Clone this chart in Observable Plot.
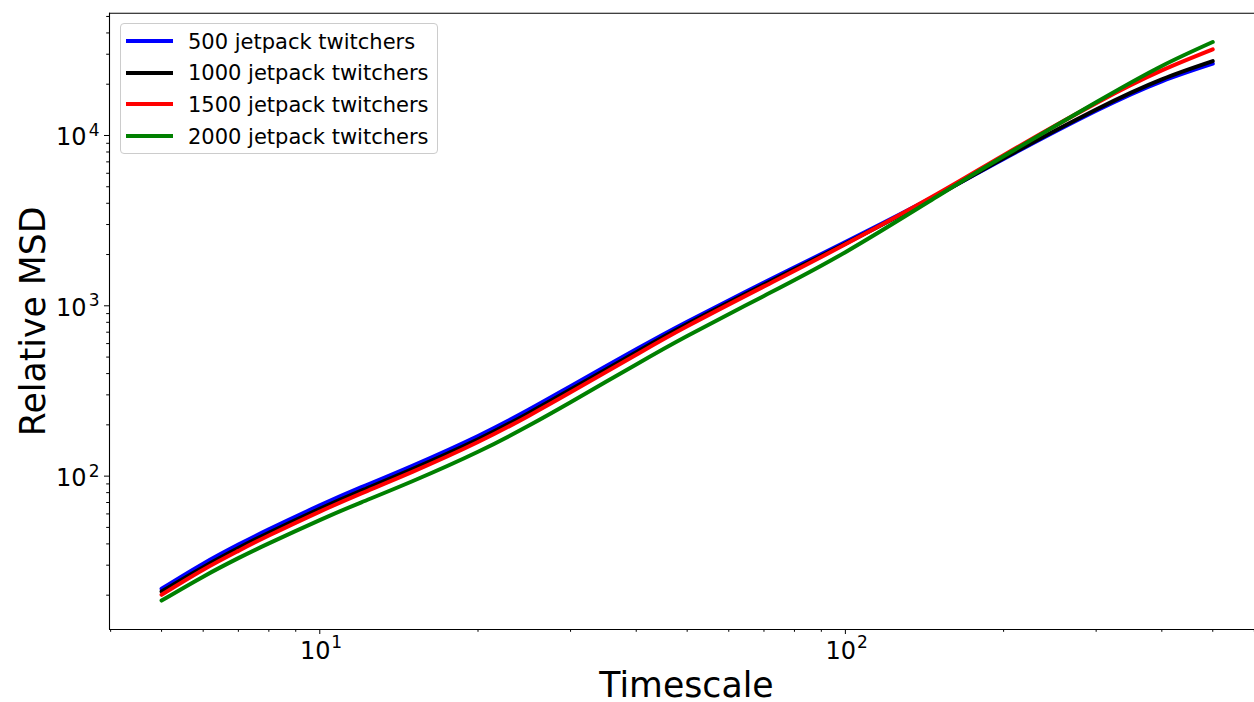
<!DOCTYPE html>
<html>
<head>
<meta charset="utf-8">
<script src="https://cdn.jsdelivr.net/npm/d3@7"></script>
<script src="https://cdn.jsdelivr.net/npm/@observablehq/plot@0.6"></script>
<style>
  html, body { margin: 0; padding: 0; background: #fff; overflow: hidden; }
  #wrap { position: relative; width: 1254px; height: 702px; font-family: "DejaVu Sans", sans-serif; }
  #legend { position: absolute; left: 120px; top: 23px; width: 318px; height: 131px;
            border: 1px solid #cccccc; border-radius: 4px; background: rgba(255,255,255,0.8); box-sizing: border-box; }
  .row { position: absolute; left: 0; height: 21px; line-height: 21px; font-size: 21px; white-space: nowrap; color: #000; }
  .sw { position: absolute; left: 5px; width: 47px; height: 4px; }
  .lab { position: absolute; left: 67px; top: 0; }
</style>
</head>
<body>
<div id="wrap"></div>
<script>
// ---- data ----
const timescale = [5, 6, 7, 8, 10, 12, 15, 20, 25, 30, 40, 50, 70, 100, 150, 200, 300, 400, 500];
const msd500  = [21.8, 30.6, 39.6, 48.7, 67.3, 86.1, 115.1, 172.2, 246.0, 337.3, 555.9, 807.2, 1368, 2366, 4498, 7278, 13960, 20800, 26400];
const msd1000 = [21.0, 29.2, 37.8, 46.5, 64.3, 82.2, 109.9, 164.4, 235.0, 322.1, 534.6, 781.6, 1334, 2317, 4467, 7345, 14220, 21380, 27340];
const msd1500 = [20.1, 28.2, 36.4, 44.8, 61.9, 79.3, 105.9, 158.5, 226.5, 310.5, 516.4, 758.6, 1300, 2296, 4560, 7656, 15490, 24100, 32030];
const msd2000 = [18.6, 25.7, 33.0, 40.3, 55.2, 70.2, 93.3, 139.0, 198.2, 271.6, 452.9, 665.3, 1143, 2065, 4416, 7551, 15670, 25590, 35380];
const seriesNames = ["500 jetpack twitchers", "1000 jetpack twitchers", "1500 jetpack twitchers", "2000 jetpack twitchers"];
const seriesValues = [msd500, msd1000, msd1500, msd2000];
const seriesColors = ["#0000ff", "#000000", "#ff0000", "#008000"];

const xMajor = [10, 100];
const xMinor = [4, 5, 6, 7, 8, 9, 20, 30, 40, 50, 60, 70, 80, 90, 200, 300, 400, 500, 600];
const yMajor = [100, 1000, 10000];
const yMinor = [20, 30, 40, 50, 60, 70, 80, 90, 200, 300, 400, 500, 600, 700, 800, 900,
                2000, 3000, 4000, 5000, 6000, 7000, 8000, 9000, 20000, 30000, 40000, 50000];

const xDomain = [Math.pow(10, 0.5999), Math.pow(10, 2.7784)];
const yDomain = [Math.pow(10, 1.0995), Math.pow(10, 4.718)];

const table = seriesNames.flatMap((name, s) =>
  timescale.map((t, i) => ({series: name, t, msd: seriesValues[s][i]})));

const FONT = "DejaVu Sans";

const chart = Plot.plot({
  width: 1254,
  height: 702,
  marginLeft: 109,
  marginRight: 0,
  marginTop: 12.7,
  marginBottom: 73,
  style: {fontFamily: FONT, background: "#fff"},
  x: {type: "log", domain: xDomain, axis: null},
  y: {type: "log", domain: yDomain, axis: null},
  color: {domain: seriesNames, range: seriesColors},
  marks: [
    Plot.line(table, {x: "t", y: "msd", z: "series", stroke: "series", strokeWidth: 4, curve: "natural"}),
    // spines
    Plot.ruleX([xDomain[0]], {stroke: "#000", strokeWidth: 1.1}),
    Plot.ruleY([yDomain[0]], {stroke: "#000", strokeWidth: 1.1}),
    Plot.ruleY([yDomain[1]], {stroke: "#000", strokeWidth: 1.1}),
    // ticks
    Plot.axisX(xMajor, {anchor: "bottom", tickSize: 5, tickFormat: () => "", label: null, stroke: "#000"}),
    Plot.axisX(xMinor, {anchor: "bottom", tickSize: 2.8, tickFormat: () => "", label: null, stroke: "#000"}),
    Plot.axisY(yMajor, {anchor: "left", tickSize: 5, tickFormat: () => "", label: null, stroke: "#000"}),
    Plot.axisY(yMinor, {anchor: "left", tickSize: 2.8, tickFormat: () => "", label: null, stroke: "#000"}),
    // tick labels
    Plot.text(xMajor, {x: d => d, frameAnchor: "bottom", text: () => "10", textAnchor: "middle",
      lineAnchor: "bottom", dx: -4.6, dy: 29, fontSize: 24, fill: "#000"}),
    Plot.text(xMajor, {x: d => d, frameAnchor: "bottom", text: d => String(Math.round(Math.log10(d))), textAnchor: "start",
      lineAnchor: "bottom", dx: 11.5, dy: 18.5, fontSize: 17, fill: "#000"}),
    Plot.text(yMajor, {y: d => d, frameAnchor: "left", text: () => "10", textAnchor: "end",
      lineAnchor: "bottom", dx: -23, dy: 10, fontSize: 24, fill: "#000"}),
    Plot.text(yMajor, {y: d => d, frameAnchor: "left", text: d => String(Math.round(Math.log10(d))), textAnchor: "end",
      lineAnchor: "bottom", dx: -10, dy: 0.5, fontSize: 17, fill: "#000"}),
    // axis titles
    Plot.text(["Timescale"], {frameAnchor: "bottom", text: d => d, textAnchor: "middle", lineAnchor: "bottom",
      dx: 4.5, dy: 67, fontSize: 34.7, fill: "#000"}),
    Plot.text(["Relative MSD"], {frameAnchor: "left", text: d => d, textAnchor: "middle", lineAnchor: "bottom",
      rotate: -90, dx: -65, fontSize: 34.7, fill: "#000"})
  ]
});

const wrap = document.getElementById("wrap");
wrap.appendChild(chart);

// legend
const legend = document.createElement("div");
legend.id = "legend";
const baselines = [49.3, 81.1, 112.9, 144.7];   // absolute baselines of legend text
const handleCenters = [40.7, 72.7, 104.3, 136];
seriesNames.forEach((name, i) => {
  const sw = document.createElement("div");
  sw.className = "sw";
  sw.style.background = seriesColors[i];
  sw.style.top = (handleCenters[i] - 24 - 2) + "px";
  legend.appendChild(sw);
  const row = document.createElement("div");
  row.className = "row";
  row.style.top = (baselines[i] - 24 - 17.77) + "px";
  const lab = document.createElement("span");
  lab.className = "lab";
  lab.textContent = name;
  row.appendChild(lab);
  legend.appendChild(row);
});
wrap.appendChild(legend);
</script>
</body>
</html>
